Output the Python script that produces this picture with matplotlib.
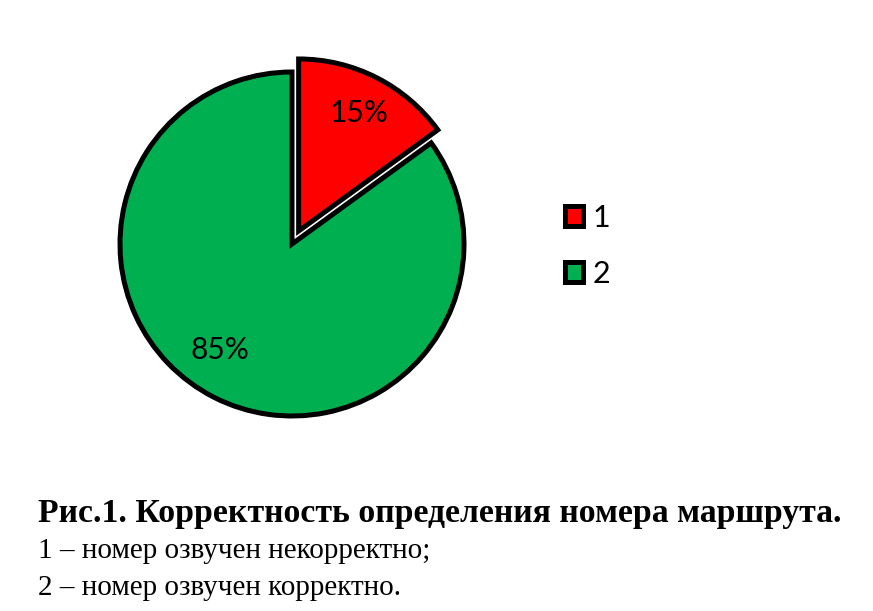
import matplotlib
matplotlib.use("Agg")
import matplotlib.pyplot as plt
from matplotlib.patches import Patch

categories = ["1", "2"]
values = [15, 85]
colors = ["#FF0000", "#00B050"]
caption_title = "Рис.1. Корректность определения номера маршрута."
caption_lines = ["1 – номер озвучен некорректно;", "2 – номер озвучен корректно."]

W, H = 873, 611
fig = plt.figure(figsize=(W / 100, H / 100), dpi=100)

cx, cy, r = 292, 244, 172
half = 200
ax = fig.add_axes([(cx - half) / W, (H - cy - half) / H, 2 * half / W, 2 * half / H])
wedges, texts, autotexts = ax.pie(
    values, colors=colors, startangle=90, counterclock=False,
    explode=[0.085, 0], autopct="%d%%", pctdistance=0.77,
    wedgeprops=dict(edgecolor="black", linewidth=3.6, joinstyle="miter"),
    textprops=dict(fontsize=21.5, family="Lato", color="black"),
)
lim = half / r
ax.set_xlim(-lim, lim)
ax.set_ylim(-lim, lim)
ax.set_aspect("equal")
ax.axis("off")
autotexts[1].set_position((-72 / r, -106 / r))

handles = [Patch(facecolor=c, edgecolor="black", linewidth=3.6) for c in colors]
fig.legend(handles, categories, loc="center left",
           bbox_to_anchor=(537 / W, 1 - 246 / H), frameon=False,
           prop=dict(family="Lato", size=22), handlelength=0.62, handleheight=0.62,
           labelspacing=0.92, handletextpad=0.3)

fig.text(38 / W, 1 - 522 / H, caption_title, family="Liberation Serif",
         fontweight="bold", fontsize=24.3, va="baseline", ha="left")
for i, line in enumerate(caption_lines):
    fig.text(38 / W, 1 - (558 + 37 * i) / H, line, family="Liberation Serif",
             fontsize=21, va="baseline", ha="left")

fig.savefig("out.png", dpi=100, facecolor="white")
